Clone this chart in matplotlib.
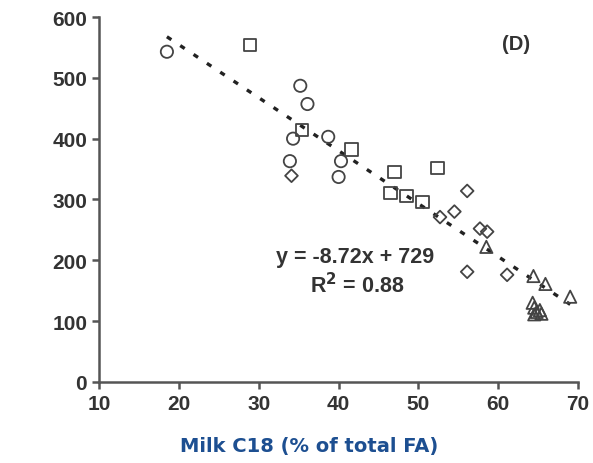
import numpy as np
import matplotlib.pyplot as plt

plt.rcParams['font.family'] = ['Liberation Sans', 'DejaVu Sans']

# Milk C18 (% of total FA) vs response, grouped by study (marker shape)
circle_x = [18.5, 35.2, 36.1, 34.3, 33.9, 38.7, 40.3, 40.0]
circle_y = [543, 487, 457, 400, 363, 403, 363, 337]

square_x = [28.9, 35.4, 41.6, 47.0, 52.4, 46.5, 48.5, 50.5]
square_y = [554, 414, 382, 345, 352, 311, 306, 296]

diamond_x = [34.1, 56.1, 52.7, 54.5, 57.7, 58.6, 56.1, 61.1]
diamond_y = [339, 314, 271, 280, 252, 247, 181, 176]

triangle_x = [58.5, 64.4, 65.9, 69.0, 64.3, 64.5, 64.8, 65.2, 64.5, 65.4]
triangle_y = [222, 174, 161, 140, 130, 122, 115, 118, 111, 112]

slope = -8.72
intercept = 729
fit_range = [18.5, 69.0]

x_ticks = [10, 20, 30, 40, 50, 60, 70]
y_ticks = [0, 100, 200, 300, 400, 500, 600]

fig = plt.figure(figsize=(5.93, 4.64), dpi=100)
ax = fig.add_axes([0.167, 0.175, 0.808, 0.786])

mk = dict(s=78, facecolors='none', edgecolors='#444444', linewidths=1.3, zorder=3)
ax.scatter(circle_x, circle_y, marker='o', **mk)
ax.scatter(square_x, square_y, marker='s', **mk)
ax.scatter(diamond_x, diamond_y, marker='D', s=42, facecolors='none',
           edgecolors='#444444', linewidths=1.3, zorder=3)
ax.scatter(triangle_x, triangle_y, marker='^', **mk)

fx = np.array(fit_range)
ax.plot(fx, slope * fx + intercept, color='#222222', linewidth=2.4,
        linestyle=(0, (1.6, 3.2)), zorder=2)

ax.text(62.2, 556, '(D)', fontsize=14.5, fontweight='bold', color='#333333',
        ha='center', va='center')
ax.text(42.0, 206, 'y = -8.72x + 729', fontsize=15.5, fontweight='bold',
        color='#333333', ha='center', va='center')
ax.text(42.3, 160, r'R$^\mathbf{2}$ = 0.88', fontsize=15.5, fontweight='bold',
        color='#333333', ha='center', va='center')

ax.set_xlim(10, 70)
ax.set_ylim(0, 600)
ax.set_xticks(x_ticks)
ax.set_yticks(y_ticks)
ax.spines['top'].set_visible(False)
ax.spines['right'].set_visible(False)
for s in ['left', 'bottom']:
    ax.spines[s].set_color('#555555')
    ax.spines[s].set_linewidth(1.8)
ax.tick_params(direction='out', length=5, width=1.8, color='#555555',
               labelsize=15, labelcolor='#333333')
for lbl in ax.get_xticklabels() + ax.get_yticklabels():
    lbl.set_fontweight('bold')

ax.set_xlabel('Milk C18 (% of total FA)', fontsize=14, fontweight='bold',
              color='#1d4f91', family=['DejaVu Sans'])
ax.xaxis.set_label_coords(0.438, -0.175)
ax.xaxis.label.set_va('center')

fig.savefig('out.png', dpi=100)
